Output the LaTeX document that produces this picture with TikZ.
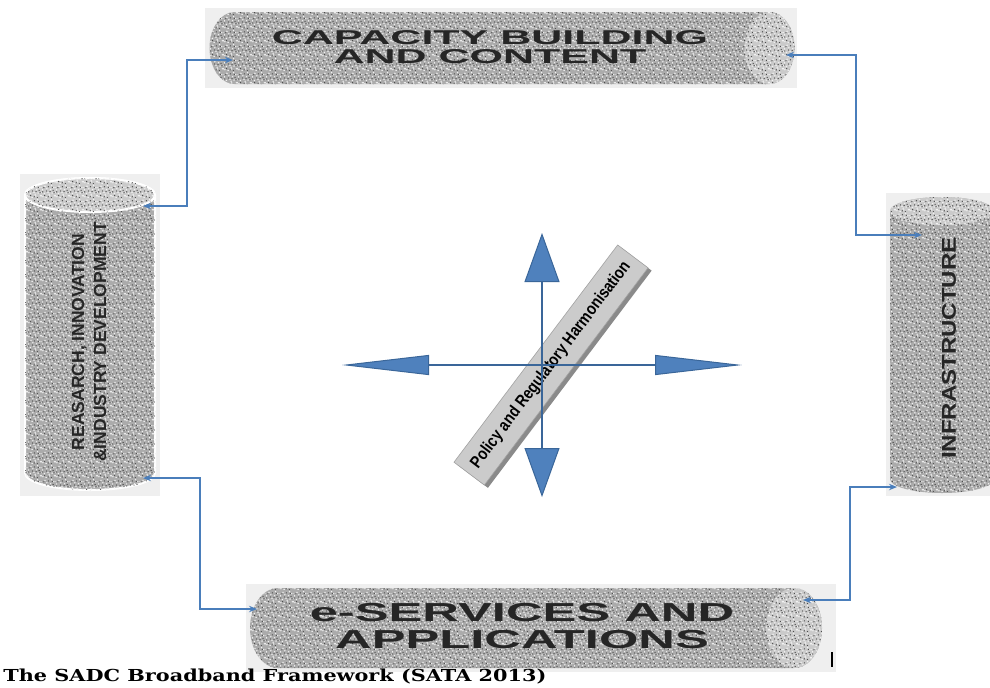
\documentclass[tikz,border=0pt]{standalone}
\usepackage{fontspec}
\setmainfont{Liberation Sans}
\newfontfamily\captionserif{DejaVu Serif}
\usetikzlibrary{arrows.meta,shadows,patterns}
\definecolor{granite}{HTML}{ABABAB}
\definecolor{graniteend}{HTML}{CACACA}
\definecolor{backdrop}{HTML}{EFEFEF}
\definecolor{crossblue}{HTML}{4F81BD}
\definecolor{crossedge}{HTML}{3A6699}
\definecolor{linkblue}{HTML}{4A7EBB}
\definecolor{bandgray}{HTML}{CBCBCB}
\definecolor{bandshade}{HTML}{8A8A8A}

% speckled stone texture for the pillars
\pgfdeclarepatterninherentlycolored{speckle}
  {\pgfpointorigin}{\pgfpoint{7pt}{7pt}}{\pgfpoint{7pt}{7pt}}{%
  \pgfsetfillcolor{white!90!gray}%
  \foreach \a/\b in {0.5/0.7, 2.2/0.2, 4.1/1.1, 5.4/2.6, 1.3/2.4, 3.2/3.0,
      0.2/4.3, 2.6/4.9, 4.6/4.4, 6.3/5.5, 1.6/6.2, 3.8/2.0, 6.6/1.2, 5.1/6.6}
    {\pgfpathcircle{\pgfpoint{\a pt}{\b pt}}{0.42pt}\pgfusepath{fill}}%
  \pgfsetfillcolor{gray!60!black}%
  \foreach \a/\b in {1.4/1.3, 3.3/0.6, 5.0/0.2, 0.4/3.2, 2.4/3.7, 4.3/3.4,
      5.9/4.0, 1.0/5.4, 3.4/5.9, 5.5/5.6, 6.4/2.8}
    {\pgfpathcircle{\pgfpoint{\a pt}{\b pt}}{0.36pt}\pgfusepath{fill}}%
}

\tikzset{pillarbody/.style={fill=granite, postaction={pattern=speckle}},
  pillarface/.style={fill=graniteend, postaction={pattern=speckle}},
  pillarword/.style={font=\bfseries, text=black!85, align=center, inner sep=0pt},
  link/.style={draw=linkblue, line width=0.8pt,
    {Stealth[length=4pt,width=3.2pt]}-{Stealth[length=4pt,width=3.2pt]}},
  spoke/.style 2 args={draw=crossedge, line width=1pt,
    -{Triangle[length=#1,width=#2,fill=crossblue,line width=0.5pt]}}}

% #2,#3 centre; #4 half length; #5 radius; #6 end radius; #7 turn
\newcommand\pillar[7][]{%
  \begin{scope}[shift={(#2,#3)}, rotate=#7]
  \path[pillarbody, #1] (-#4+#6, #5) -- (#4-#6, #5)
    arc[start angle=90, end angle=-90, x radius=#6, y radius=#5]
    -- (-#4+#6, -#5)
    arc[start angle=270, end angle=90, x radius=#6, y radius=#5] -- cycle;
  \path[pillarface, #1] (#4-#6, 0pt) ellipse[x radius=#6, y radius=#5];
  \end{scope}}

\begin{document}
\begin{tikzpicture}[x=0.5pt, y=-0.5pt]
\useasboundingbox[fill=white] (0,0) rectangle (990,687);
% light frames behind the pillars
\fill[backdrop] (205,8) rectangle (797,88);
\fill[backdrop] (20,174) rectangle (160,496);
\fill[backdrop] (886,193) rectangle (990,496);
\fill[backdrop] (246,584) rectangle (836,672);
% the four pillars
\pillar{502}{48}{146.25pt}{18pt}{12.5pt}{0}
\pillar[draw=white, line width=1pt]{90}{334}{78pt}{32.5pt}{8.5pt}{90}
\pillar{942}{345}{74pt}{26pt}{7pt}{90}
\pillar{536}{628}{143pt}{20pt}{14pt}{0}
\node[pillarword, xscale=2.15, font=\bfseries\fontsize{10}{9.5}\selectfont]
  (capacity) at (490,47) {CAPACITY BUILDING\\AND CONTENT};
\node[pillarword, rotate=90, font=\bfseries\fontsize{8.75}{11}\selectfont]
  (research) at (89,342) {REASARCH, INNOVATION\\\&INDUSTRY DEVELOPMENT};
\node[pillarword, rotate=90, font=\bfseries\fontsize{10}{12}\selectfont]
  (infra) at (949,348) {\scalebox{1.2}[1]{INFRASTRUCTURE}};
\node[pillarword, xscale=1.95, font=\bfseries\fontsize{13}{13.5}\selectfont]
  (eserv) at (522,626) {e-SERVICES AND\\APPLICATIONS};
% connectors between the pillars
\coordinate (researchtop) at (143,206);
\coordinate (researchbot) at (143,478);
\coordinate (capacityin) at (233,60);
\coordinate (capacityout) at (786,55);
\coordinate (infratop) at (922,235);
\coordinate (infrabot) at (897,487);
\coordinate (eservin) at (257,609);
\coordinate (eservout) at (803,600);
\draw[link] (researchtop) -- ++(44,0) |- (capacityin);
\draw[link] (capacityout) -- ++(70,0) |- (infratop);
\draw[link] (researchbot) -- ++(57,0) |- (eservin);
\draw[link] (eservout) -- ++(47,0) |- (infrabot);
% policy band and the cross
\node[fill=bandgray, draw=bandgray!80!black, line width=0.3pt, rotate=53,
  minimum width=136pt, minimum height=19pt, inner sep=0pt,
  drop shadow={shadow xshift=1.8pt, shadow yshift=-1.4pt, fill=bandshade, opacity=1},
  font=\bfseries\fontsize{8.5}{9}\selectfont]
  (policy) at (551,365) {\scalebox{0.84}[1]{Policy and Regulatory Harmonisation}};
\coordinate (hub) at (542,365);
\coordinate (west) at (342,365);
\coordinate (east) at (742,365);
\coordinate (north) at (542,233);
\coordinate (south) at (542,497);
\draw[spoke={43.5pt}{10pt}] (hub) -- (west);
\draw[spoke={43.5pt}{10pt}] (hub) -- (east);
\draw[spoke={24.5pt}{17.5pt}] (hub) -- (north);
\draw[spoke={24.5pt}{17.5pt}] (hub) -- (south);
% caption
\node[anchor=west, inner sep=0pt, font=\captionserif\bfseries\fontsize{8.25}{10}\selectfont]
  (caption) at (3,677) {\scalebox{1.26}[1]{The SADC Broadband Framework (SATA 2013)}};
\draw[line width=1pt] (832,652) -- (832,667);
\end{tikzpicture}
\end{document}
